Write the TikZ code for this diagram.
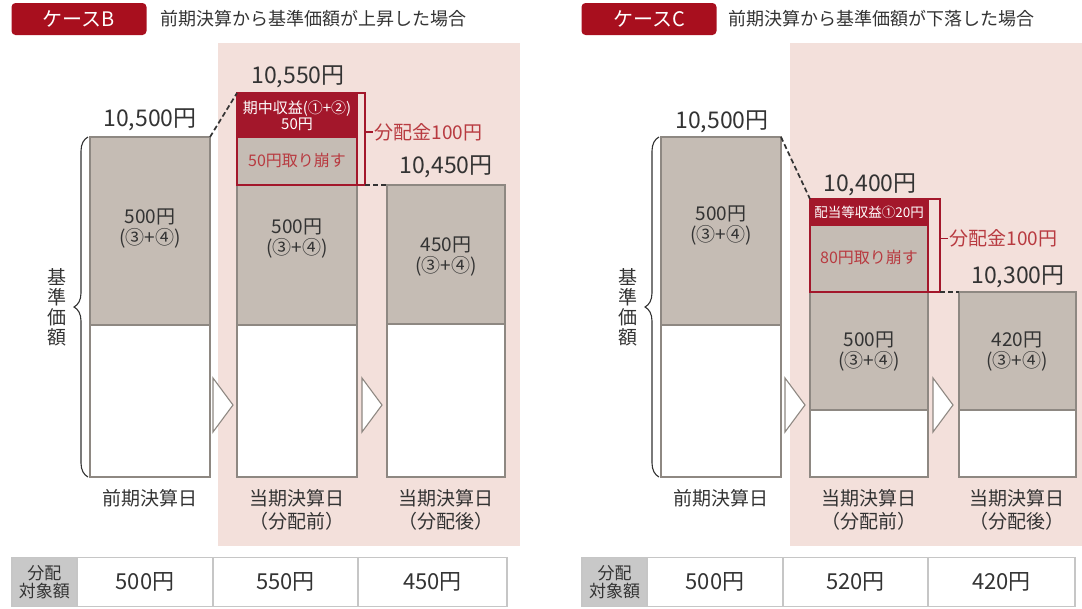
\documentclass[tikz,border=0pt]{standalone}
\usepackage{fontspec}
\setmainfont{Noto Sans CJK JP}
\usepackage{tikz}
\usetikzlibrary{arrows,positioning,calc,decorations.pathreplacing}
\definecolor{rose}{HTML}{F3E0DB}
\definecolor{grisfond}{HTML}{C5BCB4}
\definecolor{trait}{HTML}{8E8882}
\definecolor{rougefonce}{HTML}{A3172B}
\definecolor{rougebadge}{HTML}{A80F1E}
\definecolor{rougetexte}{HTML}{B83A40}
\definecolor{texte}{HTML}{333333}
\definecolor{bordtab}{HTML}{C6C6C6}
\definecolor{entete}{HTML}{C8C8C8}

\begin{document}
\begin{tikzpicture}[x=1pt,y=-1pt]
\tikzstyle{fond}=[fill=rose]
\tikzstyle{barre}=[draw=trait,fill=white,line width=1.1pt,anchor=north west,inner sep=0pt,outer sep=0pt]
\tikzstyle{partie}=[barre,fill=grisfond]
\tikzstyle{cadre}=[draw=rougefonce,line width=1.5pt,anchor=north west,inner sep=0pt,outer sep=0pt]
\tikzstyle{plein}=[cadre,fill=rougefonce]
\tikzstyle{retrait}=[cadre,fill=grisfond]
\tikzstyle{tirets}=[draw=texte,line width=1.7pt,dash pattern=on 5pt off 3pt]
\tikzstyle{chevron}=[draw=trait,fill=white,line width=1.1pt]
\tikzstyle{accolade}=[draw=texte,line width=1.1pt,decorate,decoration={brace,amplitude=14pt}]
\tikzstyle{badge}=[fill=rougebadge,rounded corners=4pt,text=white,minimum width=135pt,minimum height=32pt,font=\fontsize{20}{22}\selectfont]
\tikzstyle{titre}=[text=texte,font=\fontsize{18}{20}\selectfont]
\tikzstyle{montant}=[text=texte,font=\fontsize{23}{25}\selectfont]
\tikzstyle{interne}=[text=texte,align=center,font=\fontsize{19}{21}\selectfont]
\tikzstyle{date}=[text=texte,align=center,font=\fontsize{19}{23}\selectfont]
\tikzstyle{vertical}=[text=texte,align=center,font=\fontsize{19}{20}\selectfont]
\tikzstyle{rougeinterne}=[text=rougetexte,font=\fontsize{16}{18}\selectfont]
\tikzstyle{blancinterne}=[text=white,align=center,inner sep=0pt,font=\fontsize{15}{13.5}\selectfont]
\tikzstyle{repartition}=[text=rougetexte,anchor=west,inner sep=1pt,font=\fontsize{19}{21}\selectfont]
\tikzstyle{cellule}=[draw=bordtab,line width=1.3pt,minimum height=49pt,inner sep=0pt,outer sep=0pt,text=texte,font=\fontsize{22}{24}\selectfont]
\tikzstyle{tete}=[cellule,fill=entete,align=center,font=\fontsize{17}{18}\selectfont]
\useasboundingbox (0,0) rectangle (1082,608);
% --- case B ---
\node[badge] (casB) at (79,19) {ケースB};
\node[titre,right=10pt of casB] (titreB) {前期決算から基準価額が上昇した場合};
\fill[fond] (218,43) rectangle (520,546);
\node[barre,minimum width=120pt,minimum height=340pt] (B1) at (90,137) {};
\node[partie,minimum width=120pt,minimum height=188pt] (B1g) at (90,137) {};
\node[barre,minimum width=120pt,minimum height=292pt] (B2) at (237,185) {};
\node[partie,minimum width=120pt,minimum height=140pt] (B2g) at (237,185) {};
\node[cadre,minimum width=128pt,minimum height=92pt] (RB) at (237,93) {};
\node[plein,minimum width=120pt,minimum height=44pt] (RBp) at (237,93) {};
\node[retrait,minimum width=120pt,minimum height=48pt] (RBr) at (237,137) {};
\node[barre,minimum width=118pt,minimum height=292pt] (B3) at (387,185) {};
\node[partie,minimum width=118pt,minimum height=139pt] (B3g) at (387,185) {};
\draw[accolade] ([xshift=-2pt]B1.south west) -- ([xshift=-2pt]B1.north west);
\node[vertical] (baseB) at (57,307) {基\\準\\価\\額};
\draw[tirets] (B1.north east) -- (RB.north west);
\draw[tirets] (RB.south east) -- (B3.north west);
\draw[chevron] (213,378) -- (233,405) -- (213,432) -- cycle;
\draw[chevron] (362,378) -- (382,405) -- (362,432) -- cycle;
\node[montant] (vB1) at (150,120) {10,500円};
\node[montant] (vB2) at (298,77) {10,550円};
\node[montant] (vB3) at (446,167) {10,450円};
\node[interne] (iB1) at (150,229) {500円\\(③+④)};
\node[interne] (iB2) at (297,239) {500円\\(③+④)};
\node[interne] (iB3) at (446,257) {450円\\(③+④)};
\node[blancinterne] (pB) at (297,116) {期中収益(①+②)\\50円};
\node[rougeinterne] (rB) at (297,160) {50円取り崩す};
\draw[draw=rougefonce,line width=1.3pt] ([yshift=7pt]RB.east) -- ++(8,0) node[repartition] (dB) {分配金100円};
\node[date] (dB1) at (150,498) {前期決算日};
\node[date] (dB2) at (297,510) {当期決算日\\（分配前）};
\node[date] (dB3) at (446,510) {当期決算日\\（分配後）};
\node[tete,minimum width=65pt] (TB0) at (44.5,582) {分配\\対象額};
\node[cellule,minimum width=136pt,right=0pt of TB0] (TB1) {500円};
\node[cellule,minimum width=145pt,right=0pt of TB1] (TB2) {550円};
\node[cellule,minimum width=149pt,right=0pt of TB2] (TB3) {450円};
% --- case C ---
\node[badge] (casC) at (649,19) {ケースC};
\node[titre,right=8pt of casC] (titreC) {前期決算から基準価額が下落した場合};
\fill[fond] (790,43) rectangle (1082,546);
\node[barre,minimum width=120pt,minimum height=340pt] (C1) at (661,137) {};
\node[partie,minimum width=120pt,minimum height=188pt] (C1g) at (661,137) {};
\node[barre,minimum width=118pt,minimum height=185pt] (C2) at (810,292) {};
\node[partie,minimum width=118pt,minimum height=118pt] (C2g) at (810,292) {};
\node[cadre,minimum width=130pt,minimum height=93pt] (RC) at (810,199) {};
\node[plein,minimum width=118pt,minimum height=26pt] (RCp) at (810,199) {};
\node[retrait,minimum width=118pt,minimum height=67pt] (RCr) at (810,225) {};
\node[barre,minimum width=117pt,minimum height=185pt] (C3) at (959,292) {};
\node[partie,minimum width=117pt,minimum height=118pt] (C3g) at (959,292) {};
\draw[accolade] ([xshift=-2pt]C1.south west) -- ([xshift=-2pt]C1.north west);
\node[vertical] (baseC) at (628,307) {基\\準\\価\\額};
\draw[tirets] (C1.north east) -- (RC.north west);
\draw[tirets] (RC.south east) -- (C3.north west);
\draw[chevron] (785,378) -- (805,405) -- (785,432) -- cycle;
\draw[chevron] (933,378) -- (953,405) -- (933,432) -- cycle;
\node[montant] (vC1) at (722,122) {10,500円};
\node[montant] (vC2) at (870,185) {10,400円};
\node[montant] (vC3) at (1018,277) {10,300円};
\node[interne] (iC1) at (721,226) {500円\\(③+④)};
\node[interne] (iC2) at (869,352) {500円\\(③+④)};
\node[interne] (iC3) at (1017,352) {420円\\(③+④)};
\node[blancinterne,font=\fontsize{13.5}{15}\selectfont] (pC) at (869,212) {配当等収益①20円};
\node[rougeinterne] (rC) at (869,257) {80円取り崩す};
\draw[draw=rougefonce,line width=1.3pt] ([yshift=7pt]RC.east) -- ++(8,0) node[repartition] (dC) {分配金100円};
\node[date] (dC1) at (721,498) {前期決算日};
\node[date] (dC2) at (869,510) {当期決算日\\（分配前）};
\node[date] (dC3) at (1017,510) {当期決算日\\（分配後）};
\node[tete,minimum width=65pt] (TC0) at (614.5,582) {分配\\対象額};
\node[cellule,minimum width=136pt,right=0pt of TC0] (TC1) {500円};
\node[cellule,minimum width=145pt,right=0pt of TC1] (TC2) {520円};
\node[cellule,minimum width=147pt,right=0pt of TC2] (TC3) {420円};
\end{tikzpicture}
\end{document}
